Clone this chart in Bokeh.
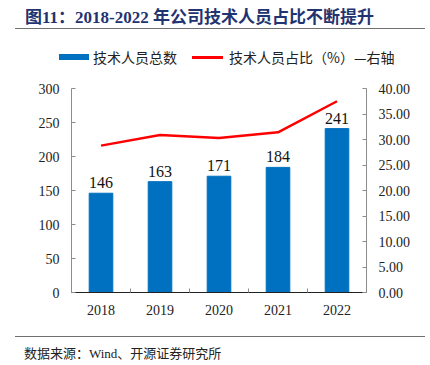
from bokeh.plotting import figure
from bokeh.models import (ColumnDataSource, Range1d, LinearAxis, FixedTicker,
                          NumeralTickFormatter, LabelSet, Div)
from bokeh.layouts import column
from bokeh.embed import file_html
from bokeh.resources import INLINE

years = ["2018", "2019", "2020", "2021", "2022"]
staff = [146, 163, 171, 184, 241]
ratio = [28.8, 30.9, 30.3, 31.4, 37.5]
left_ticks = [0, 50, 100, 150, 200, 250, 300]
right_ticks = [0, 5, 10, 15, 20, 25, 30, 35, 40]

title_text = "图11：2018-2022 年公司技术人员占比不断提升"
legend_bar = "技术人员总数"
legend_line = "技术人员占比（%）—右轴"
source_text = "数据来源：Wind、开源证券研究所"

SERIF = "Liberation Serif"
CJK = "Noto Sans CJK SC"
FONTS = "'Liberation Serif', 'Noto Sans CJK SC', serif"

# category slots on a numeric axis so that boundary ticks can be drawn
n = len(years)
xpos = [i + 0.5 for i in range(n)]
bounds = [float(i) for i in range(1, n)]

W = 422
head = Div(width=W, height=64, text=f"""
<div style="position:relative;width:{W}px;height:64px;font-family:{FONTS};">
  <div style="position:absolute;left:20px;top:2px;font-size:17px;font-weight:bold;color:#1F3470;line-height:22px;white-space:nowrap;">{title_text}</div>
  <div style="position:absolute;left:10px;top:23px;width:410px;height:0;border-top:1.5px solid #707070;"></div>
  <div style="position:absolute;left:54px;top:49px;width:30px;height:6px;background:#0070C0;"></div>
  <div style="position:absolute;left:88px;top:43px;font-size:14px;line-height:18px;color:#222;white-space:nowrap;font-family:'Noto Sans CJK SC';">{legend_bar}</div>
  <div style="position:absolute;left:187px;top:51px;width:31px;height:2.5px;background:#FF0000;"></div>
  <div style="position:absolute;left:224px;top:43px;font-size:14px;line-height:18px;color:#222;white-space:nowrap;font-family:'Noto Sans CJK SC';">{legend_line}</div>
</div>""")

foot = Div(width=W, height=28, text=f"""
<div style="position:relative;width:{W}px;height:28px;">
  <div style="position:absolute;left:10px;top:3px;width:410px;height:0;border-top:1.5px solid #707070;"></div>
  <div style="position:absolute;left:19px;top:14px;font-size:13px;line-height:14px;color:#222;white-space:nowrap;font-family:{FONTS};">{source_text}</div>
</div>""")

p = figure(width=430, height=254, x_range=Range1d(0, n), y_range=Range1d(0, 300),
           output_backend="svg", toolbar_location=None,
           min_border_left=71, min_border_right=64, min_border_top=14, min_border_bottom=36)
p.extra_y_ranges = {"pct": Range1d(0, 40)}
p.outline_line_color = None
p.xgrid.visible = False
p.ygrid.visible = False

src = ColumnDataSource(dict(x=xpos, y=staff, r=ratio, t=[str(v) for v in staff]))
p.vbar(x="x", top="y", width=0.4, source=src, color="#0070C0")
p.line(x="x", y="r", source=src, y_range_name="pct", color="#FF0000", line_width=2.5)
p.add_layout(LabelSet(x="x", y="y", text="t", source=src, text_align="center",
                      text_baseline="bottom", y_offset=5, text_font=SERIF,
                      text_font_size="16px", text_color="#111111"))

def style_axis(ax):
    ax.major_label_text_font = SERIF
    ax.major_label_text_font_size = "14px"
    ax.major_label_text_color = "#222222"
    ax.minor_tick_line_color = None

ya = p.yaxis[0]
ya.ticker = FixedTicker(ticks=left_ticks)
ya.axis_line_color = "#8C8C8C"
ya.major_tick_line_color = "#8C8C8C"
ya.major_tick_out = 0
ya.major_tick_in = 4
ya.major_label_standoff = 12
style_axis(ya)

ra = LinearAxis(y_range_name="pct", ticker=FixedTicker(ticks=right_ticks),
                formatter=NumeralTickFormatter(format="0.00"))
ra.axis_line_color = "#8C8C8C"
ra.major_tick_line_color = "#8C8C8C"
ra.major_tick_out = 0
ra.major_tick_in = 4
ra.major_label_standoff = 12
style_axis(ra)
p.add_layout(ra, "right")

xa = p.xaxis[0]
xa.ticker = FixedTicker(ticks=xpos, minor_ticks=bounds)
xa.major_label_overrides = {x: y for x, y in zip(xpos, years)}
style_axis(xa)
xa.axis_line_color = "#222222"
xa.major_tick_line_color = None
xa.minor_tick_line_color = "#8C8C8C"
xa.minor_tick_in = 4
xa.minor_tick_out = 0
xa.major_label_standoff = 6

layout = column(head, p, foot, spacing=0)
open("out.html", "w").write(file_html(layout, INLINE))
